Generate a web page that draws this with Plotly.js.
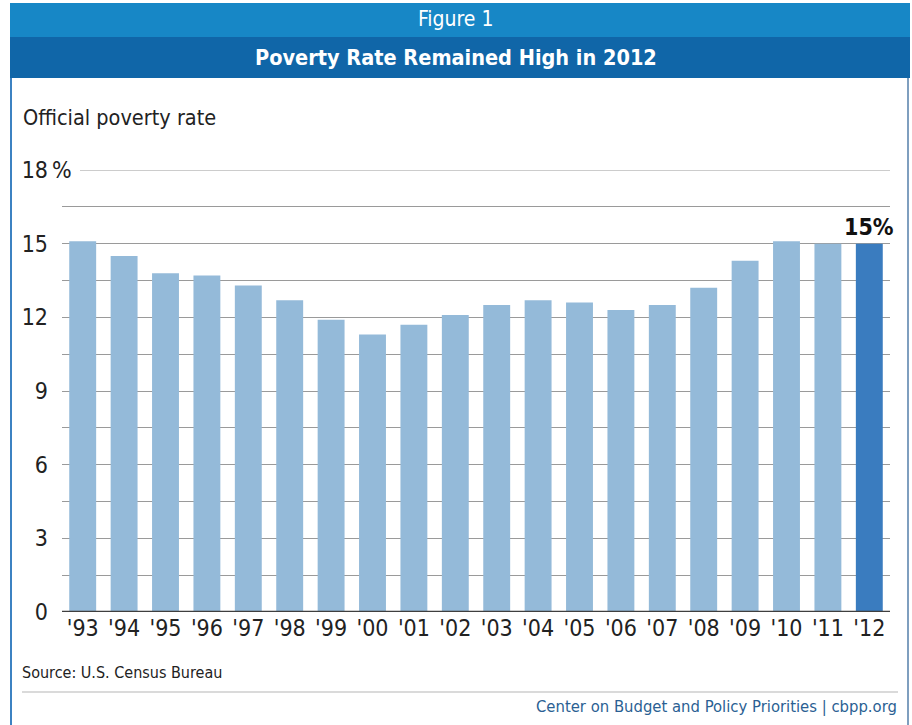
<!DOCTYPE html>
<html>
<head>
<meta charset="utf-8">
<script src="https://cdn.plot.ly/plotly-3.0.1.min.js"></script>
<style>
  html, body { margin: 0; padding: 0; background: #ffffff; }
  #chart { width: 912px; height: 725px; }
</style>
</head>
<body>
<div id="chart"></div>
<script>
// Official poverty rate by year (percent)
const years = ["'93", "'94", "'95", "'96", "'97", "'98", "'99", "'00", "'01", "'02",
               "'03", "'04", "'05", "'06", "'07", "'08", "'09", "'10", "'11", "'12"];
const povertyRate = [15.1, 14.5, 13.8, 13.7, 13.3, 12.7, 11.9, 11.3, 11.7, 12.1,
                     12.5, 12.7, 12.6, 12.3, 12.5, 13.2, 14.3, 15.1, 15.0, 15.0];
const yTickVals = [0, 3, 6, 9, 12, 15, 18];
const yTickText = ["0", "3", "6", "9", "12", "15", "18"];

const FONT = "'Liberation Sans Narrow', 'DejaVu Sans Condensed', 'Arial Narrow', sans-serif";
const LIGHT = "#94bad9";
const DARK = "#3a7cbf";

// latest year highlighted in a darker blue
const barColors = years.map((_, i) => i === years.length - 1 ? DARK : LIGHT);
const last = years.length - 1;

const trace = {
  type: "bar",
  x: years,
  y: povertyRate,
  marker: { color: barColors, line: { width: 0 } },
  hoverinfo: "x+y"
};

// plot area spans 62..890 px horizontally, 170..612 px vertically
const L = 62, R = 890, T = 170, B = 612;
const px = v => (v - L) / (R - L);
const py = v => (B - v) / (B - T);

const layout = {
  width: 912,
  height: 725,
  margin: { l: L, r: 912 - R, t: T, b: 725 - B, pad: 0 },
  paper_bgcolor: "#ffffff",
  plot_bgcolor: "#ffffff",
  showlegend: false,
  bargap: 0.35,
  font: { family: FONT, color: "#222222" },
  xaxis: {
    type: "category",
    range: [-0.5, years.length - 0.5],
    showgrid: false,
    zeroline: false,
    showline: false,
    ticks: "",
    tickfont: { family: FONT, size: 23, color: "#222222" },
    fixedrange: true
  },
  yaxis: {
    range: [0, 18],
    tickvals: yTickVals,
    ticktext: yTickText,
    tickfont: { family: FONT, size: 23, color: "#222222" },
    ticklabelstandoff: 13,
    showgrid: true,
    gridcolor: "#9a9a9a",
    gridwidth: 1,
    minor: { dtick: 1.5, showgrid: true, gridcolor: "#9a9a9a", gridwidth: 1 },
    zeroline: false,
    showline: false,
    ticks: "",
    fixedrange: true
  },
  shapes: [
    // header bands
    { type: "rect", xref: "paper", yref: "paper", x0: px(10), x1: px(910), y0: py(37), y1: py(3),
      fillcolor: "#1787c6", line: { width: 0 }, layer: "below" },
    { type: "rect", xref: "paper", yref: "paper", x0: px(10), x1: px(910), y0: py(78), y1: py(37),
      fillcolor: "#1066a8", line: { width: 0 }, layer: "below" },
    // side frame
    { type: "rect", xref: "paper", yref: "paper", x0: px(10), x1: px(12), y0: py(725), y1: py(78),
      fillcolor: "#3c82c2", line: { width: 0 }, layer: "below" },
    { type: "rect", xref: "paper", yref: "paper", x0: px(907), x1: px(909), y0: py(725), y1: py(78),
      fillcolor: "#7f9fbf", line: { width: 0 }, layer: "below" },
    // top gridline, shortened to leave room for the unit label
    { type: "line", xref: "paper", yref: "y", x0: px(80), x1: 1, y0: 18, y1: 18,
      line: { color: "#9a9a9a", width: 1 }, layer: "below" },
    // baseline at zero
    { type: "line", xref: "paper", yref: "y", x0: 0, x1: 1, y0: 0, y1: 0,
      line: { color: "#3f3f3f", width: 2.5 } },
    // footer rule
    { type: "line", xref: "paper", yref: "paper", x0: px(22), x1: px(898), y0: py(692), y1: py(692),
      line: { color: "#b5b5b5", width: 1 } }
  ],
  annotations: [
    { text: "Figure 1", xref: "paper", yref: "paper", x: px(456), y: py(19),
      xanchor: "center", yanchor: "middle", showarrow: false,
      font: { family: FONT, size: 21, color: "#ffffff" } },
    { text: "<b>Poverty Rate Remained High in 2012</b>", xref: "paper", yref: "paper",
      x: px(456), y: py(57), xanchor: "center", yanchor: "middle", showarrow: false,
      font: { family: FONT, size: 21.5, color: "#ffffff" } },
    { text: "Official poverty rate", xref: "paper", yref: "paper", x: px(21), y: py(118),
      xanchor: "left", yanchor: "middle", showarrow: false,
      font: { family: FONT, size: 21.5, color: "#222222" } },
    { text: "%", xref: "paper", yref: "y", x: px(50), y: 18,
      xanchor: "left", yanchor: "middle", showarrow: false,
      font: { family: FONT, size: 23, color: "#222222" } },
    { text: "<b>" + povertyRate[last].toFixed(0) + "%</b>", xref: "x", yref: "y",
      x: years[last], y: povertyRate[last], xanchor: "center", yanchor: "bottom",
      yshift: 2, showarrow: false,
      font: { family: FONT, size: 23, color: "#111111" } },
    { text: "Source: U.S. Census Bureau", xref: "paper", yref: "paper", x: px(20), y: py(672),
      xanchor: "left", yanchor: "middle", showarrow: false,
      font: { family: FONT, size: 16, color: "#222222" } },
    { text: "Center on Budget and Policy Priorities | cbpp.org", xref: "paper", yref: "paper",
      x: px(899), y: py(706), xanchor: "right", yanchor: "middle", showarrow: false,
      font: { family: FONT, size: 16.5, color: "#2b5f93" } }
  ]
};

Plotly.newPlot("chart", [trace], layout, { displayModeBar: false, staticPlot: true });
</script>
</body>
</html>
